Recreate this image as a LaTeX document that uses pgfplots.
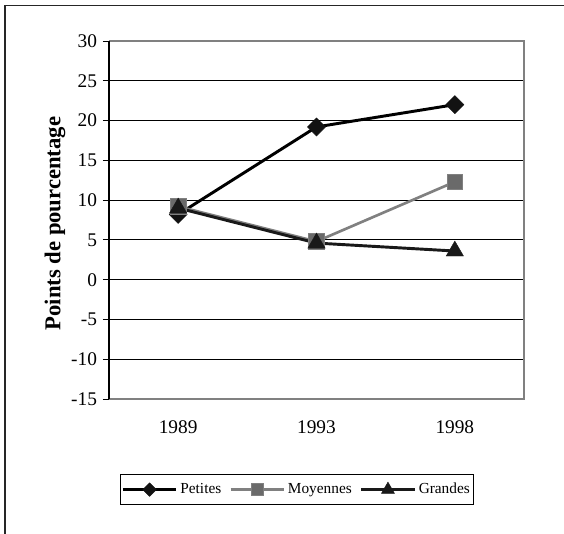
\documentclass[border=0pt]{standalone}
\usepackage{fontspec}
\setmainfont{Liberation Serif}
\usepackage{pgfplots}
\pgfplotsset{compat=1.18}
\definecolor{moy}{HTML}{808080}
\definecolor{moyfill}{HTML}{6A6A6A}
\definecolor{frame}{HTML}{808080}
\begin{document}
\begin{tikzpicture}
  \useasboundingbox (-109*0.75pt,-134*0.75pt) rectangle (455*0.75pt,399*0.75pt);
  \draw[line width=1.3pt, black!85] (-104*0.75pt,-150*0.75pt) rectangle (480*0.75pt,393.5*0.75pt);
  \begin{axis}[
    at={(0pt,0pt)}, anchor=south west,
    scale only axis, width=311.25pt, height=268.5pt,
    xmin=-0.5, xmax=2.5, ymin=-15, ymax=30,
    xtick={0,1,2}, xticklabels={1989,1993,1998},
    ytick={-15,-10,...,30},
    major x tick style={draw=none},
    ytick pos=left, tick align=outside,
    major tick length=4.5pt,
    y tick style={black, line width=0.6pt},
    ymajorgrids, grid style={black, line width=0.6pt},
    axis line style={draw=none},
    /pgf/number format/assume math mode=true,
    tick label style={font=\fontsize{14.5}{16}\selectfont},
    xticklabel style={yshift=-8pt},
    yticklabel style={xshift=-1pt},
    ylabel={\textbf{Points de pourcentage}},
    every axis y label/.style={at={([xshift=-40.5pt]rel axis cs:0,0.49)}, rotate=90, anchor=center,
      font=\fontsize{17}{19}\selectfont},
    clip=false,
    legend columns=3,
    legend style={at={(0.453,-0.253)}, anchor=center, draw=black, line width=0.6pt,
      font=\fontsize{11.5}{13}\selectfont, inner xsep=1pt, inner ysep=4.5pt,
      /tikz/every even column/.append style={column sep=4pt}},
    legend cell align=left,
    legend image code/.code={\draw[mark repeat=2, mark phase=2, every mark/.append style={scale=0.75}]
      plot coordinates {(0pt,0pt) (20pt,0pt) (40pt,0pt)};},
  ]
    \addplot[black, line width=2.2pt, mark=square*, mark size=4.8pt,
      mark options={rotate=45, fill=black!93, draw=black!93, line width=0.3pt}]
      coordinates {(0,8.2) (1,19.2) (2,22.0)};
    \addlegendentry{Petites}
    \addplot[moy, line width=2pt, mark=square*, mark size=5.8pt,
      mark options={fill=moyfill, draw=moy, line width=0.5pt}]
      coordinates {(0,9.2) (1,4.8) (2,12.3)};
    \addlegendentry{Moyennes}
    \addplot[black!90, line width=2.2pt, mark=triangle*, mark size=7.5pt,
      mark options={fill=black!90, draw=black!90, line width=0.3pt}]
      coordinates {(0,9.0) (1,4.6) (2,3.6)};
    \addlegendentry{Grandes}
    \draw[frame, line width=1.6pt] (rel axis cs:0,0) -- (rel axis cs:1,0) -- (rel axis cs:1,1) -- (rel axis cs:0,1);
    \draw[black, line width=1pt] (rel axis cs:0,0) -- (rel axis cs:0,1);
  \end{axis}
\end{tikzpicture}
\end{document}
